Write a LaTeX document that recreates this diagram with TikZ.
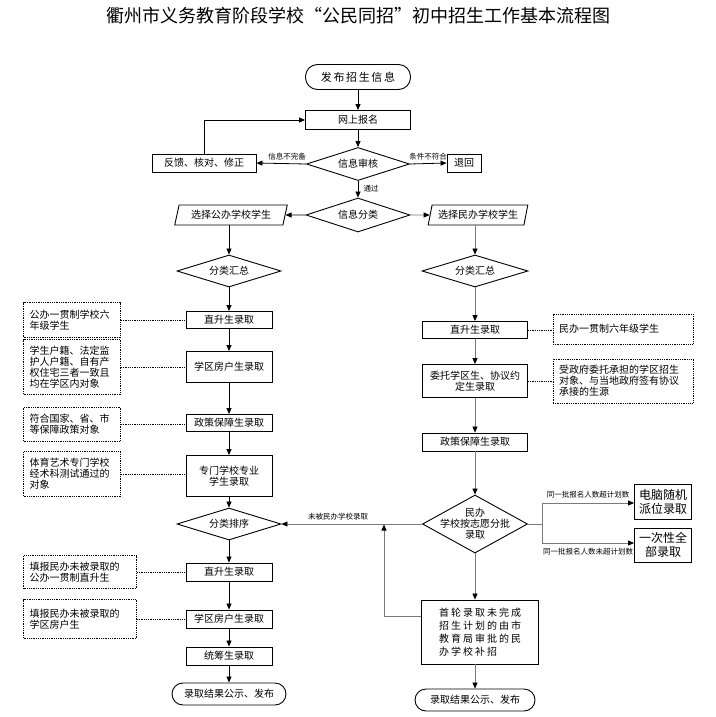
\documentclass[tikz,border=0pt]{standalone}
\usepackage{fontspec}
\setmainfont{Noto Sans CJK SC}
\usetikzlibrary{shapes.geometric,arrows.meta}
\definecolor{lgray}{HTML}{7A7A7A}
\begin{document}
\begin{tikzpicture}[x=1pt,y=-1pt,
  every node/.style={font=\fontsize{10}{11}\selectfont},
  box/.style={draw, line width=0.9pt, inner sep=1pt, align=center},
  term/.style={box, rounded corners=11pt},
  dia/.style={draw, diamond, line width=0.9pt, inner sep=0pt, aspect=3},
  para/.style={draw, trapezium, trapezium left angle=73, trapezium right angle=107,
    trapezium stretches=true, line width=0.9pt, inner sep=1pt, minimum height=20pt},
  note/.style={draw, densely dotted, line width=0.8pt, align=left, inner xsep=6pt, inner ysep=1pt},
  lbl/.style={font=\fontsize{7.5}{8}\selectfont, inner sep=1pt},
  arr/.style={-{Triangle[length=6pt,width=5pt,color=black]}, line width=0.8pt},
  garr/.style={arr, draw=lgray},
  gline/.style={line width=0.8pt, draw=lgray},
  dots/.style={densely dotted, line width=0.8pt}
]
\useasboundingbox[fill=white] (0,0) rectangle (715,717);

% title
\node[font=\fontsize{18}{20}\selectfont] (title) at (358,16) {衢州市义务教育阶段学校“公民同招”初中招生工作基本流程图};

% top part
\node[term, rounded corners=12pt, minimum width=105pt, minimum height=25pt,
  font=\fontsize{11}{12}\selectfont\addfontfeature{LetterSpace=15}] (start) at (358,77) {发布招生信息};
\node[box, minimum width=105pt, minimum height=19pt] (web) at (358,120) {网上报名};
\node[dia, minimum width=103pt, minimum height=33pt] (audit) at (358,164) {信息审核};
\node[box, minimum width=104pt, minimum height=18pt] (fb) at (204,163) {反馈、核对、修正};
\node[box, minimum width=34pt, minimum height=18pt] (back) at (464,163) {退回};
\node[dia, minimum width=104pt, minimum height=34pt] (cls) at (358,215) {信息分类};
\node[para, minimum width=113pt] (pub) at (231,215) {选择公办学校学生};
\node[para, minimum width=100pt] (pri) at (478,215) {选择民办学校学生};

\draw[arr] (start) -- (web);
\draw[arr] (web) -- (audit);
\draw[arr] (audit.west) -- (fb.east);
\draw[arr] (audit.east) -- (back.west);
\draw[arr] (fb.north) -- (fb.north |- web.west) -- (web.west);
\draw[arr] (audit.south) -- (cls.north);
\draw[arr] (cls.west) -- (pub.east);
\draw[garr] (cls.east) -- (pri.west);
\node[lbl] (l1) at (287,157) {信息不完备};
\node[lbl] (l2) at (428,157) {条件不符合};
\node[lbl] (l3) at (371,189) {通过};

% left column
\node[dia, minimum width=104pt, minimum height=32pt] (lsum) at (229,271) {分类汇总};
\node[box, minimum width=86pt, minimum height=17pt] (lz1) at (229,320) {直升生录取};
\node[box, minimum width=86pt, minimum height=31pt] (lz2) at (229,367) {学区房户生录取};
\node[box, minimum width=86pt, minimum height=17pt] (lz3) at (229,423) {政策保障生录取};
\node[box, minimum width=86pt, minimum height=41pt] (lz4) at (229,476) {专门学校专业\\学生录取};
\node[dia, minimum width=104pt, minimum height=32pt] (lsort) at (229,524) {分类排序};
\node[box, minimum width=86pt, minimum height=18pt] (lz5) at (229,572) {直升生录取};
\node[box, minimum width=86pt, minimum height=18pt] (lz6) at (229,619) {学区房户生录取};
\node[box, minimum width=86pt, minimum height=18pt] (lz7) at (229,656) {统筹生录取};
\node[term, minimum width=114pt, minimum height=22pt] (lend) at (229,694) {录取结果公示、发布};

\draw[arr] (pub.south -| lsum.north) -- (lsum.north);
\draw[arr] (lsum.south) -- (lz1.north);
\draw[arr] (lz1) -- (lz2);
\draw[arr] (lz2) -- (lz3);
\draw[arr] (lz3) -- (lz4);
\draw[arr] (lz4) -- (lsort);
\draw[arr] (lsort.south) -- (lz5.north);
\draw[arr] (lz5) -- (lz6);
\draw[arr] (lz6) -- (lz7);
\draw[arr] (lz7) -- (lend);

% left notes
\node[note, text width=85pt, minimum height=35pt] (n1) at (72,320) {公办一贯制学校六\\年级学生};
\node[note, text width=85pt, minimum height=55pt] (n2) at (72,367) {学生户籍、法定监\\护人户籍、自有产\\权住宅三者一致且\\均在学区内对象};
\node[note, text width=85pt, minimum height=34pt] (n3) at (72,424) {符合国家、省、市\\等保障政策对象};
\node[note, text width=85pt, minimum height=45pt] (n4) at (72,474) {体育艺术专门学校\\经术科测试通过的\\对象};
\node[note, text width=101pt, minimum height=33pt] (n5) at (80,572) {填报民办未被录取的\\公办一贯制直升生};
\node[note, text width=101pt, minimum height=39pt] (n6) at (80,619) {填报民办未被录取的\\学区房户生};
\draw[dots] (n1.east) -- (lz1.west);
\draw[dots] (n2.east) -- (lz2.west);
\draw[dots] (n3.east) -- (n3.east -| lz3.west);
\draw[dots] (n4.east) -- (n4.east -| lz4.west);
\draw[dots] (n5.east) -- (lz5.west);
\draw[dots] (n6.east) -- (lz6.west);

% right column
\node[dia, minimum width=106pt, minimum height=32pt] (rsum) at (475,271) {分类汇总};
\node[box, minimum width=105pt, minimum height=17pt] (rz1) at (475,330) {直升生录取};
\node[box, minimum width=105pt, minimum height=33pt] (rz2) at (475,381) {委托学区生、协议约\\定生录取};
\node[box, minimum width=105pt, minimum height=18pt] (rz3) at (475,442) {政策保障生录取};
\node[dia, minimum width=105pt, minimum height=58pt] (rdec) at (475,524) {};
\node[align=center, inner sep=0pt] (rdect) at (rdec) {民办\\学校按志愿分批\\录取};
\node[box, minimum width=117pt, minimum height=64pt, align=left,
  font=\fontsize{10}{13}\selectfont\addfontfeature{LetterSpace=20}] (rz4) at (480,632) {首轮录取未完成\\招生计划的由市\\教育局审批的民\\办学校补招};
\node[term, minimum width=120pt, minimum height=22pt] (rend) at (475,700) {录取结果公示、发布};

\node[box, minimum width=57pt, minimum height=35pt, font=\fontsize{12}{14}\selectfont] (rb1) at (663,502) {电脑随机\\派位录取};
\node[box, minimum width=57pt, minimum height=34pt, font=\fontsize{12}{14}\selectfont] (rb2) at (663,545) {一次性全\\部录取};

\node[note, text width=128pt, minimum height=30pt] (rn1) at (623,329) {民办一贯制六年级学生};
\node[note, text width=128pt, minimum height=44pt] (rn2) at (623,381) {受政府委托承担的学区招生\\对象、与当地政府签有协议\\承接的生源};
\draw[dots] (rz1.east) -- (rz1.east -| rn1.west);
\draw[dots] (rz2.east) -- (rz2.east -| rn2.west);

\draw[garr] (pri.south -| rsum.north) -- (rsum.north);
\draw[garr] (rsum.south) -- (rz1.north);
\draw[garr] (rz1) -- (rz2);
\draw[garr] (rz2) -- (rz3);
\draw[garr] (rz3.south) -- (rdec.north);
\draw[garr] (rdec.south) -- (rz4.north -| rdec.south);
\draw[garr] (rz4.south -| rend.north) -- (rend.north);

% branches of the decision
\coordinate (bj) at (542,524);
\coordinate (bt) at (542,503);
\coordinate (bb) at (542,543);
\draw[gline] (rdec.east) -- (bj);
\draw[gline] (bt) -- (bb);
\draw[garr] (bt) -- (bt -| rb1.west);
\draw[garr] (bb) -- (bb -| rb2.west);
\node[lbl] (l4) at (588,495) {同一批报名人数超计划数};
\node[lbl] (l5) at (588,552) {同一批报名人数未超计划数};

% back to left
\draw[garr] (rdec.west) -- (lsort.east);
\node[lbl] (l6) at (338,517) {未被民办学校录取};
\coordinate (lp) at (384,616);
\draw[garr] (lp -| rz4.west) -- (lp) -- ([yshift=-0.5pt]lp |- rdec.west);
\end{tikzpicture}
\end{document}
